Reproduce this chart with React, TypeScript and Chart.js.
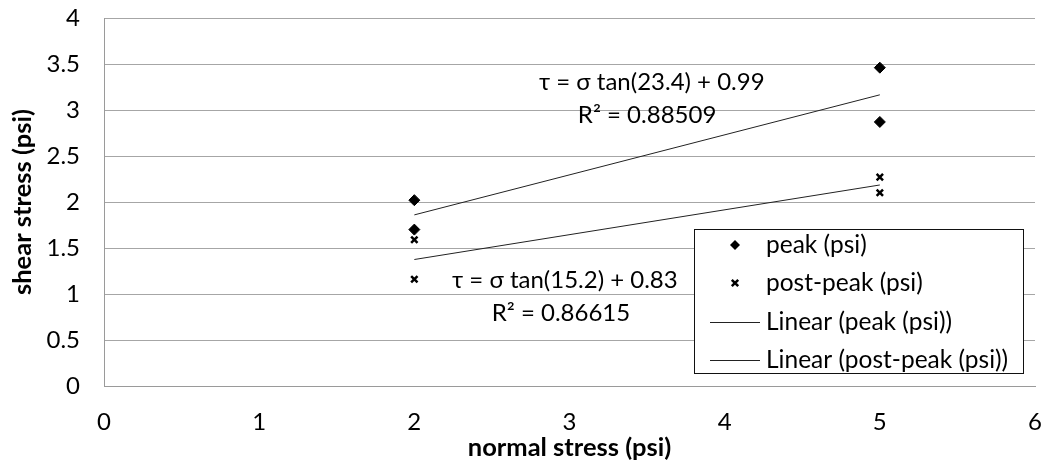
import React, { useEffect, useRef } from "react";
import { Chart, registerables } from "chart.js";
Chart.register(...registerables);

const peakX = [2, 2, 5, 5];
const peakY = [2.02, 1.7, 3.46, 2.87];
const postX = [2, 2, 5, 5];
const postY = [1.59, 1.16, 2.27, 2.1];
const xTickValues = [0, 1, 2, 3, 4, 5, 6];
const yTickValues = [0, 0.5, 1, 1.5, 2, 2.5, 3, 3.5, 4];
const seriesNames = ["peak (psi)", "post-peak (psi)", "Linear (peak (psi))", "Linear (post-peak (psi))"];
const peakEquation = ["τ = σ tan(23.4) + 0.99", "R² = 0.88509"];
const postEquation = ["τ = σ tan(15.2) + 0.83", "R² = 0.86615"];
const xTitle = "normal stress (psi)";
const yTitle = "shear stress (psi)";

const FONT = "Lato, 'Open Sans', sans-serif";

function linearFit(xs: number[], ys: number[]) {
  const n = xs.length;
  const mx = xs.reduce((a, b) => a + b, 0) / n;
  const my = ys.reduce((a, b) => a + b, 0) / n;
  let sxy = 0, sxx = 0;
  for (let i = 0; i < n; i++) {
    sxy += (xs[i] - mx) * (ys[i] - my);
    sxx += (xs[i] - mx) * (xs[i] - mx);
  }
  const m = sxy / sxx;
  const b = my - m * mx;
  const lo = Math.min(...xs);
  const hi = Math.max(...xs);
  return [
    { x: lo, y: m * lo + b },
    { x: hi, y: m * hi + b },
  ];
}

const annotationPlugin = {
  id: "annotations",
  afterDatasetsDraw(chart: any) {
    const { ctx, scales } = chart;
    const xs = scales.x;
    const ys = scales.y;
    ctx.save();
    ctx.fillStyle = "#000";
    ctx.font = `24px ${FONT}`;
    ctx.textAlign = "center";
    ctx.textBaseline = "middle";
    ctx.fillText(peakEquation[0], xs.getPixelForValue(3.53), ys.getPixelForValue(3.3));
    ctx.fillText(peakEquation[1], xs.getPixelForValue(3.5), ys.getPixelForValue(2.94));
    ctx.fillText(postEquation[0], xs.getPixelForValue(2.97), ys.getPixelForValue(1.15));
    ctx.fillText(postEquation[1], xs.getPixelForValue(2.945), ys.getPixelForValue(0.79));
    ctx.restore();
  },
  afterDraw(chart: any) {
    const { ctx } = chart;
    const left = 694, top = 229, w = 329, h = 144;
    ctx.save();
    ctx.fillStyle = "#fff";
    ctx.fillRect(left, top, w, h);
    ctx.strokeStyle = "#111";
    ctx.lineWidth = 1;
    ctx.strokeRect(left + 0.5, top + 0.5, w, h);
    const rows = [245, 283, 322, 360];
    const mx = 735;
    ctx.fillStyle = "#000";
    ctx.beginPath();
    ctx.moveTo(mx, rows[0] - 5);
    ctx.lineTo(mx + 5, rows[0]);
    ctx.lineTo(mx, rows[0] + 5);
    ctx.lineTo(mx - 5, rows[0]);
    ctx.closePath();
    ctx.fill();
    ctx.strokeStyle = "#000";
    ctx.lineWidth = 2.5;
    ctx.beginPath();
    ctx.moveTo(mx - 3.2, rows[1] - 3.2);
    ctx.lineTo(mx + 3.2, rows[1] + 3.2);
    ctx.moveTo(mx + 3.2, rows[1] - 3.2);
    ctx.lineTo(mx - 3.2, rows[1] + 3.2);
    ctx.stroke();
    ctx.lineWidth = 1;
    ctx.strokeStyle = "#222";
    for (const r of [rows[2], rows[3]]) {
      ctx.beginPath();
      ctx.moveTo(710, r + 0.5);
      ctx.lineTo(760, r + 0.5);
      ctx.stroke();
    }
    ctx.fillStyle = "#000";
    ctx.font = `24.5px ${FONT}`;
    ctx.textAlign = "left";
    ctx.textBaseline = "middle";
    seriesNames.forEach((s, i) => ctx.fillText(s, 766, rows[i]));
    ctx.restore();
  },
};

export default function App() {
  const ref = useRef<HTMLCanvasElement>(null);
  useEffect(() => {
    document.body.style.margin = "0";
    const canvas = ref.current!;
    const chart = new Chart(canvas, {
      type: "scatter",
      data: {
        datasets: [
          {
            label: seriesNames[0],
            data: peakX.map((x, i) => ({ x, y: peakY[i] })),
            pointStyle: "rectRot",
            pointRadius: 5.5,
            backgroundColor: "#000",
            borderColor: "#000",
            borderWidth: 1,
            order: 1,
          },
          {
            label: seriesNames[1],
            data: postX.map((x, i) => ({ x, y: postY[i] })),
            pointStyle: "crossRot",
            pointRadius: 4.5,
            borderColor: "#000",
            backgroundColor: "#000",
            borderWidth: 2.5,
            order: 1,
          },
          {
            label: seriesNames[2],
            type: "line",
            data: linearFit(peakX, peakY),
            borderColor: "#222",
            borderWidth: 1,
            pointRadius: 0,
            showLine: true,
            order: 2,
          },
          {
            label: seriesNames[3],
            type: "line",
            data: linearFit(postX, postY),
            borderColor: "#222",
            borderWidth: 1,
            pointRadius: 0,
            showLine: true,
            order: 2,
          },
        ] as any,
      },
      options: {
        animation: false,
        responsive: false,
        devicePixelRatio: 1,
        layout: { padding: { top: 0, right: 0, left: 0, bottom: 0 } },
        plugins: { legend: { display: false }, tooltip: { enabled: false } },
        scales: {
          x: {
            type: "linear",
            min: 0,
            max: 6,
            afterBuildTicks: (s: any) => {
              s.ticks = xTickValues.map((v) => ({ value: v }));
            },
            afterFit: (s: any) => {
              s.height = 80;
              s.paddingLeft = 0;
              s.paddingRight = 9;
            },
            grid: { display: false, drawTicks: false },
            border: { display: true, color: "#9a9a9a", width: 1 },
            ticks: {
              color: "#000",
              font: { family: FONT, size: 24 },
              padding: 22,
              callback: (v: any) => String(v),
            },
            title: {
              display: true,
              text: xTitle,
              color: "#000",
              font: { family: FONT, size: 25.5, weight: "bold" },
              padding: { top: 0, bottom: 3 },
            },
          },
          y: {
            type: "linear",
            min: 0,
            max: 4,
            afterBuildTicks: (s: any) => {
              s.ticks = yTickValues.map((v) => ({ value: v }));
            },
            afterFit: (s: any) => {
              s.width = 104;
              s.paddingTop = 18;
              s.paddingBottom = 0;
            },
            grid: { color: "#a6a6a6", drawTicks: false, lineWidth: 1 },
            border: { display: true, color: "#9a9a9a", width: 1 },
            ticks: {
              color: "#000",
              font: { family: FONT, size: 24 },
              padding: 24,
              callback: (v: any) => String(v),
            },
            title: {
              display: true,
              text: yTitle,
              color: "#000",
              font: { family: FONT, size: 25.5, weight: "bold" },
              padding: { top: 7, bottom: 0 },
            },
          },
        },
      } as any,
      plugins: [annotationPlugin],
    });
    return () => chart.destroy();
  }, []);
  return (
    <div style={{ width: 1044, height: 466 }}>
      <canvas ref={ref} width={1044} height={466} />
    </div>
  );
}
